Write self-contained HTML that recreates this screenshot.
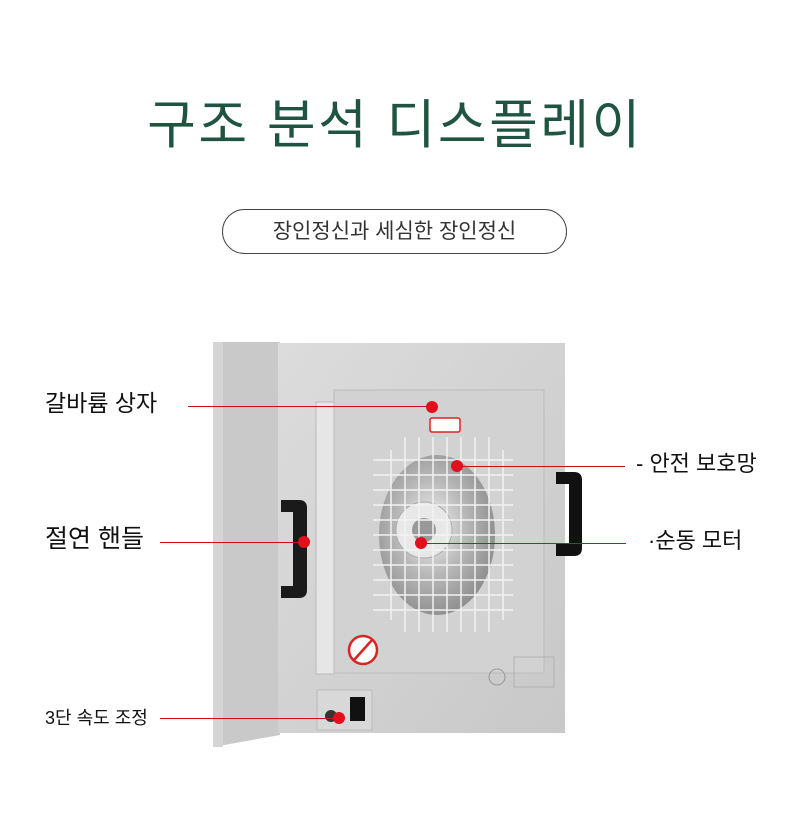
<!DOCTYPE html>
<html><head><meta charset="utf-8"><style>
body{margin:0;width:790px;height:831px;background:#fff;position:relative;overflow:hidden;font-family:"Liberation Sans","Noto Sans CJK KR",sans-serif}
.a{position:absolute}
.t{left:0;width:790px;top:91px;text-align:center;font-size:53px;color:#1f5540;line-height:70px;letter-spacing:2.5px}
.pill{left:222px;top:209px;width:343px;height:43px;border:1.5px solid #444;border-radius:24px;text-align:center;line-height:43px;font-size:21px;color:#333}
.lab{font-size:23px;color:#111;line-height:26px;white-space:nowrap}
.ln{height:1px;background:#c0141c}
.dot{width:12px;height:12px;border-radius:50%;background:#e0101c;margin:-6px 0 0 -6px}
</style></head><body>
<div class="a t">구조 분석 디스플레이</div>
<div class="a pill">장인정신과 세심한 장인정신</div>

<svg class="a" style="left:0;top:0" width="790" height="831">
<defs>
<linearGradient id="f" x1="0" y1="0" x2="1" y2="1"><stop offset="0" stop-color="#dcdcdc"/><stop offset="1" stop-color="#c8c8c8"/></linearGradient>
<radialGradient id="fan" cx="0.45" cy="0.45" r="0.6"><stop offset="0" stop-color="#f4f4f4"/><stop offset="0.5" stop-color="#b8b8b8"/><stop offset="1" stop-color="#8a8a8a"/></radialGradient>
</defs>
<polygon points="213,342 280,342 280,735 213,747" fill="#c9c9c9"/>
<rect x="213" y="342" width="10" height="405" fill="#d5d5d5"/>
<rect x="278" y="343" width="287" height="390" fill="url(#f)"/>
<rect x="316" y="402" width="18" height="272" fill="#e6e6e6" stroke="#bbb"/>
<rect x="334" y="390" width="210" height="283" fill="#d2d2d2" stroke="#bcbcbc"/>
<ellipse cx="437" cy="535" rx="58" ry="80" fill="url(#fan)"/>
<circle cx="424" cy="530" r="28" fill="#e8e8e8" stroke="#aaa"/>
<circle cx="424" cy="530" r="12" fill="#999"/>
<g stroke="#f2f2f2" stroke-width="1.5" fill="none">
<path d="M373 460H513M373 475H513M373 490H513M373 505H513M373 520H513M373 535H513M373 550H513M373 565H513M373 580H513M373 595H513M373 610H513"/>
<path d="M405 437V632M419 437V632M433 437V632M447 437V632M461 437V632M475 437V632M489 437V632M391 450V620M503 450V620"/>
</g>
<rect x="430" y="418" width="30" height="14" rx="2" fill="#fff" stroke="#d22" stroke-width="1.5"/>
<circle cx="363" cy="650" r="14" fill="#fff" stroke="#d22" stroke-width="2.5"/>
<line x1="354" y1="660" x2="372" y2="640" stroke="#d22" stroke-width="2.5"/>
<circle cx="497" cy="677" r="8" fill="none" stroke="#999"/>
<rect x="514" y="657" width="40" height="30" fill="none" stroke="#aaa" stroke-width=".8"/>
<rect x="317" y="690" width="55" height="40" fill="#d8d8d8" stroke="#bbb"/>
<rect x="350" y="697" width="15" height="24" fill="#111"/>
<circle cx="331" cy="716" r="6" fill="#333"/>
<path d="M281 500h18q8 0 8 8v82q0 8-8 8h-18v-12h12v-74h-12z" fill="#1a1a1a"/>
<path d="M556 472h18q8 0 8 8v68q0 8-8 8h-18v-12h13v-60h-13z" fill="#111"/>
</svg>

<div class="a ln" style="left:188px;top:406px;width:244px"></div>
<div class="a ln" style="left:457px;top:466px;width:168px"></div>
<div class="a ln" style="left:421px;top:543px;width:205px"></div>
<div class="a ln" style="left:160px;top:542px;width:144px"></div>
<div class="a ln" style="left:160px;top:718px;width:179px"></div>
<div class="a dot" style="left:432px;top:407px"></div>
<div class="a dot" style="left:457px;top:466px"></div>
<div class="a dot" style="left:421px;top:543px"></div>
<div class="a dot" style="left:304px;top:542px"></div>
<div class="a dot" style="left:339px;top:718px"></div>

<div class="a lab" style="left:45px;top:390px">갈바륨 상자</div>
<div class="a lab" style="left:45px;top:526px;font-size:25px">절연 핸들</div>
<div class="a lab" style="left:45px;top:707px;font-size:18px;line-height:22px">3단 속도 조정</div>
<div class="a lab" style="left:636px;top:451px;font-size:22px">- 안전 보호망</div>
<div class="a lab" style="left:648px;top:528px;font-size:22px">·순동 모터</div>
</body></html>
